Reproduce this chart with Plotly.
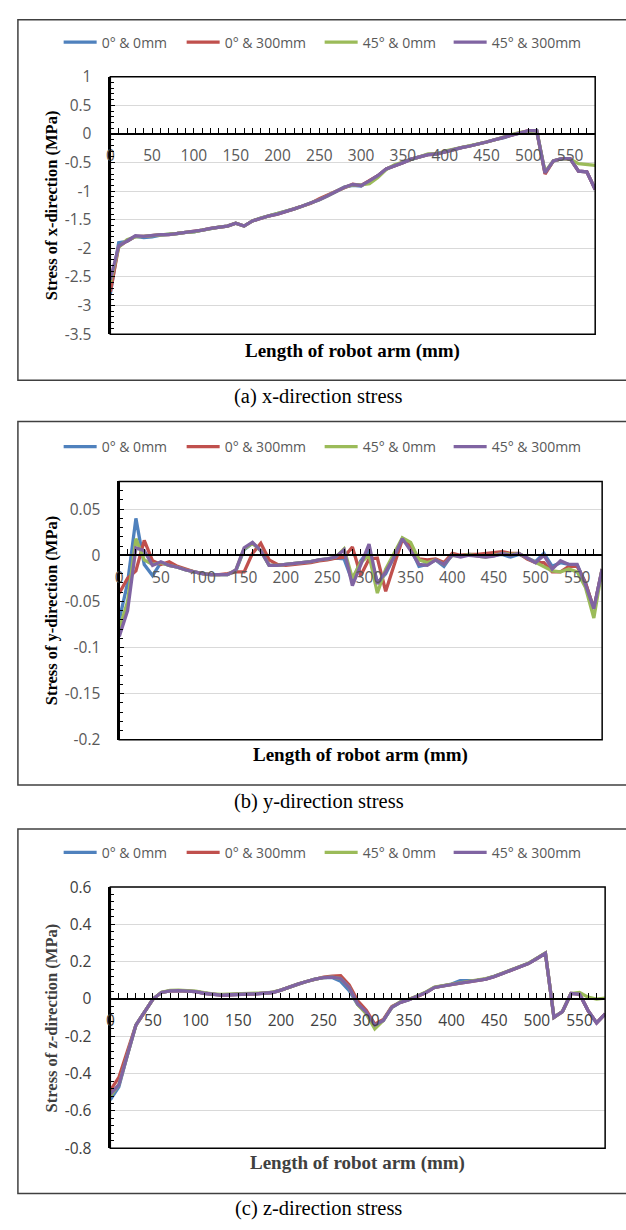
import plotly.graph_objects as go

W, H = 626, 1230

# ---------------- data ----------------
LENGTH_MM = list(range(0, 590, 10))  # 0 ... 580 mm, one point every 10 mm
SERIES = ["0° & 0mm", "0° & 300mm", "45° & 0mm", "45° & 300mm"]
COLORS = ["#4F81BD", "#C0504D", "#9BBB59", "#8064A2"]

# (a) x-direction stress (MPa)
SX_0_0 = [-2.80, -1.90, -1.88, -1.79, -1.81, -1.80, -1.77, -1.76, -1.74, -1.72,
          -1.71, -1.68, -1.65, -1.63, -1.61, -1.56, -1.61, -1.52, -1.47, -1.43,
          -1.40, -1.36, -1.31, -1.26, -1.21, -1.15, -1.08, -1.01, -0.93, -0.90,
          -0.91, -0.82, -0.73, -0.61, -0.56, -0.50, -0.44, -0.40, -0.36, -0.35,
          -0.31, -0.28, -0.24, -0.21, -0.18, -0.14, -0.10, -0.07, -0.02, 0.02,
          0.05, 0.06, -0.68, -0.47, -0.43, -0.43, -0.65, -0.66, -0.97]
SX_0_300 = [-2.76, -1.97, -1.87, -1.79, -1.79, -1.77, -1.76, -1.76, -1.74, -1.72,
            -1.71, -1.68, -1.65, -1.63, -1.61, -1.56, -1.61, -1.52, -1.47, -1.43,
            -1.40, -1.36, -1.31, -1.26, -1.21, -1.13, -1.06, -1.00, -0.94, -0.88,
            -0.90, -0.82, -0.73, -0.61, -0.56, -0.50, -0.44, -0.40, -0.36, -0.35,
            -0.31, -0.28, -0.24, -0.21, -0.18, -0.14, -0.10, -0.06, -0.02, 0.03,
            0.06, 0.06, -0.70, -0.47, -0.43, -0.43, -0.65, -0.66, -0.97]
SX_45_0 = [-2.60, -1.98, -1.85, -1.80, -1.79, -1.78, -1.76, -1.76, -1.74, -1.72,
           -1.71, -1.68, -1.65, -1.63, -1.61, -1.56, -1.61, -1.52, -1.47, -1.43,
           -1.40, -1.36, -1.31, -1.26, -1.21, -1.15, -1.08, -1.01, -0.93, -0.89,
           -0.89, -0.87, -0.76, -0.62, -0.54, -0.49, -0.45, -0.40, -0.35, -0.35,
           -0.30, -0.27, -0.24, -0.21, -0.18, -0.14, -0.10, -0.05, -0.01, 0.03,
           0.05, 0.06, -0.66, -0.47, -0.43, -0.44, -0.52, -0.53, -0.55]
SX_45_300 = [-2.55, -1.96, -1.87, -1.78, -1.79, -1.77, -1.76, -1.76, -1.74, -1.72,
             -1.71, -1.68, -1.65, -1.63, -1.61, -1.56, -1.61, -1.52, -1.47, -1.43,
             -1.40, -1.36, -1.31, -1.26, -1.21, -1.15, -1.08, -1.01, -0.93, -0.88,
             -0.90, -0.82, -0.73, -0.61, -0.56, -0.50, -0.44, -0.40, -0.36, -0.35,
             -0.31, -0.28, -0.24, -0.21, -0.18, -0.14, -0.10, -0.06, -0.02, 0.03,
             0.06, 0.06, -0.68, -0.47, -0.43, -0.43, -0.65, -0.66, -0.97]

# (b) y-direction stress (MPa)
SY_0_0 = [-0.070, -0.030, 0.040, -0.010, -0.022, -0.008, -0.011, -0.013, -0.016, -0.018,
          -0.020, -0.021, -0.021, -0.021, -0.017, 0.006, 0.013, 0.005, -0.011, -0.011,
          -0.010, -0.009, -0.008, -0.007, -0.005, -0.004, -0.003, -0.004, -0.028, -0.006,
          0.005, -0.030, -0.020, -0.002, 0.018, 0.008, -0.012, -0.010, -0.005, -0.012,
          0.001, -0.001, 0.001, 0.000, -0.001, 0.000, 0.001, -0.002, 0.001, -0.003,
          -0.007, 0.002, -0.012, -0.008, -0.010, -0.011, -0.030, -0.058, -0.015]
SY_0_300 = [-0.041, -0.025, -0.017, 0.016, -0.006, -0.010, -0.007, -0.012, -0.015, -0.018,
            -0.020, -0.021, -0.021, -0.020, -0.018, -0.018, 0.002, 0.013, -0.005, -0.010,
            -0.011, -0.010, -0.009, -0.008, -0.006, -0.005, -0.003, -0.002, 0.009, -0.022,
            -0.004, -0.003, -0.039, -0.010, 0.017, 0.010, -0.004, -0.005, -0.004, -0.008,
            0.002, 0.000, 0.001, 0.001, 0.002, 0.003, 0.004, 0.002, 0.002, -0.004,
            -0.008, -0.008, -0.018, -0.018, -0.012, -0.012, -0.030, -0.058, -0.015]
SY_45_0 = [-0.080, -0.050, 0.018, -0.005, -0.010, -0.008, -0.011, -0.013, -0.016, -0.018,
           -0.020, -0.021, -0.021, -0.021, -0.016, 0.007, 0.013, 0.005, -0.011, -0.011,
           -0.010, -0.009, -0.008, -0.007, -0.005, -0.004, -0.002, 0.007, -0.025, -0.008,
           0.000, -0.041, -0.015, 0.002, 0.019, 0.014, -0.005, -0.008, -0.005, -0.010,
           0.000, -0.001, 0.001, -0.001, -0.002, 0.000, 0.002, 0.001, 0.002, -0.003,
           -0.008, -0.013, -0.017, -0.018, -0.015, -0.018, -0.035, -0.068, -0.015]
SY_45_300 = [-0.088, -0.060, 0.008, 0.005, -0.011, -0.007, -0.011, -0.013, -0.016, -0.018,
             -0.020, -0.021, -0.021, -0.021, -0.016, 0.008, 0.014, 0.005, -0.011, -0.011,
             -0.010, -0.009, -0.008, -0.007, -0.005, -0.004, -0.002, 0.006, -0.033, -0.010,
             0.012, -0.031, -0.018, -0.002, 0.018, 0.005, -0.010, -0.011, -0.005, -0.010,
             0.000, -0.002, 0.000, -0.001, -0.002, -0.001, 0.002, 0.000, 0.002, -0.003,
             -0.008, 0.000, -0.015, -0.006, -0.010, -0.010, -0.032, -0.058, -0.015]

# (c) z-direction stress (MPa)
SZ_0_0 = [-0.54, -0.47, -0.30, -0.14, -0.07, 0.00, 0.035, 0.044, 0.045, 0.044,
          0.040, 0.031, 0.024, 0.021, 0.023, 0.027, 0.027, 0.028, 0.030, 0.035,
          0.048, 0.066, 0.080, 0.094, 0.107, 0.115, 0.115, 0.095, 0.045, -0.030,
          -0.070, -0.140, -0.115, -0.044, -0.018, -0.004, 0.014, 0.035, 0.062, 0.072,
          0.080, 0.098, 0.100, 0.100, 0.107, 0.120, 0.137, 0.156, 0.174, 0.190,
          0.217, 0.245, -0.098, -0.067, 0.030, 0.027, -0.062, -0.128, -0.080]
SZ_0_300 = [-0.49, -0.42, -0.28, -0.14, -0.07, 0.00, 0.035, 0.044, 0.045, 0.044,
            0.040, 0.031, 0.024, 0.021, 0.023, 0.027, 0.027, 0.028, 0.030, 0.035,
            0.048, 0.066, 0.080, 0.094, 0.107, 0.117, 0.122, 0.125, 0.075, -0.010,
            -0.060, -0.135, -0.110, -0.040, -0.018, -0.004, 0.014, 0.035, 0.062, 0.071,
            0.076, 0.085, 0.092, 0.100, 0.107, 0.120, 0.137, 0.156, 0.174, 0.190,
            0.217, 0.245, -0.098, -0.067, 0.030, 0.027, -0.062, -0.128, -0.080]
SZ_45_0 = [-0.52, -0.46, -0.30, -0.14, -0.07, 0.00, 0.036, 0.046, 0.047, 0.046,
           0.042, 0.034, 0.027, 0.025, 0.027, 0.031, 0.031, 0.031, 0.032, 0.037,
           0.048, 0.066, 0.080, 0.094, 0.107, 0.115, 0.117, 0.110, 0.062, -0.030,
           -0.080, -0.160, -0.115, -0.044, -0.015, -0.002, 0.016, 0.038, 0.064, 0.073,
           0.078, 0.087, 0.094, 0.102, 0.109, 0.122, 0.139, 0.158, 0.176, 0.192,
           0.219, 0.247, -0.098, -0.067, 0.030, 0.035, 0.010, 0.000, 0.005]
SZ_45_300 = [-0.51, -0.46, -0.30, -0.14, -0.07, 0.00, 0.035, 0.044, 0.045, 0.044,
             0.040, 0.031, 0.024, 0.021, 0.023, 0.027, 0.027, 0.028, 0.030, 0.035,
             0.048, 0.066, 0.080, 0.094, 0.107, 0.115, 0.117, 0.110, 0.062, -0.027,
             -0.070, -0.140, -0.115, -0.044, -0.018, -0.004, 0.014, 0.035, 0.062, 0.071,
             0.076, 0.085, 0.092, 0.100, 0.107, 0.120, 0.137, 0.156, 0.174, 0.190,
             0.217, 0.245, -0.098, -0.067, 0.030, 0.027, -0.062, -0.128, -0.080]

X_TICKS = [0, 50, 100, 150, 200, 250, 300, 350, 400, 450, 500, 550]
Y_TICKS_X = [-3.5, -3, -2.5, -2, -1.5, -1, -0.5, 0, 0.5, 1]
Y_TICKS_Y = [-0.2, -0.15, -0.1, -0.05, 0, 0.05]
Y_TICKS_Z = [-0.8, -0.6, -0.4, -0.2, 0, 0.2, 0.4, 0.6]

Y_TITLES = ["Stress of x-direction (MPa)", "Stress of y-direction (MPa)",
            "Stress of z-direction (MPa)"]
X_TITLE = "Length of robot arm (mm)"
CAPTIONS = ["(a) x-direction stress", "(b) y-direction stress", "(c) z-direction stress"]

# ---------------- layout / geometry (pixels) ----------------
PANELS = [
    dict(data=[SX_0_0, SX_0_300, SX_45_0, SX_45_300], yr=[-3.5, 1], yt=Y_TICKS_X, minor=0.1,
         l=107, r=595, t=66, b=328, bt=8, bb=375, leg=31, xt=345, cap=391,
         title_color="#000000", tick_color="#595959"),
    dict(data=[SY_0_0, SY_0_300, SY_45_0, SY_45_300], yr=[-0.2, 0.08], yt=Y_TICKS_Y, minor=0.01,
         l=116, r=602, t=478, b=741, bt=417, bb=787, leg=443, xt=757, cap=804,
         title_color="#000000", tick_color="#595959"),
    dict(data=[SZ_0_0, SZ_0_300, SZ_45_0, SZ_45_300], yr=[-0.8, 0.6], yt=Y_TICKS_Z, minor=0.04,
         l=107, r=605, t=891, b=1157, bt=832, bb=1203, leg=856, xt=1172, cap=1218,
         title_color="#404040", tick_color="#404040"),
]
LEGEND_ENTRY_WIDTHS = [75, 90, 81, 90]


def px_x(v):
    return v / W


def px_y(v):
    return 1 - v / H


fig = go.Figure()
shapes = []
annotations = []
layout = dict(
    width=W, height=H,
    margin=dict(l=0, r=0, t=0, b=0),
    paper_bgcolor="white", plot_bgcolor="white",
    showlegend=True,
)

TICK_FONT = "Open Sans, Liberation Sans, sans-serif"
SERIF = "Liberation Serif, Times New Roman, serif"

for i, p in enumerate(PANELS):
    s = "" if i == 0 else str(i + 1)
    xa, ya = "x" + s, "y" + s
    leg = "legend" + s
    for name, color, vals, lw in zip(SERIES, COLORS, p["data"], LEGEND_ENTRY_WIDTHS):
        fig.add_trace(go.Scatter(
            x=LENGTH_MM, y=vals, name=name, mode="lines",
            line=dict(color=color, width=3.3),
            xaxis=xa, yaxis=ya, legend=leg, legendwidth=lw,
        ))

    ymin, ymax = p["yr"]
    yb, ytop = px_y(p["b"]), px_y(p["t"])
    zero_pos = yb + (0 - ymin) / (ymax - ymin) * (ytop - yb)

    layout["xaxis" + s] = dict(
        domain=[px_x(p["l"]), px_x(p["r"])], range=[0, 580],
        anchor="free", position=zero_pos,
        tickmode="array", tickvals=X_TICKS, ticktext=[str(v) for v in X_TICKS],
        ticks="inside", ticklen=5, tickwidth=1, tickcolor="black",
        minor=dict(tickmode="linear", tick0=0, dtick=10, ticks="inside", ticklen=5,
                   tickwidth=1, tickcolor="black", showgrid=False),
        showline=True, linecolor="black", linewidth=1.5,
        showgrid=False, zeroline=False,
        tickfont=dict(family=TICK_FONT, size=15.5, color=p["tick_color"]),
        ticklabelstandoff=8,
    )
    layout["yaxis" + s] = dict(
        domain=[yb, ytop], range=[ymin, ymax], anchor=xa,
        tickmode="array", tickvals=p["yt"], ticktext=[f"{v:g}" for v in p["yt"]],
        ticks="inside", ticklen=5, tickwidth=1, tickcolor="black",
        minor=dict(tickmode="linear", tick0=ymin, dtick=p["minor"], ticks="inside",
                   ticklen=4, tickwidth=1, tickcolor="black", showgrid=False),
        showline=True, linecolor="black", linewidth=1.5,
        showgrid=True, gridcolor="#D9D9D9", gridwidth=1, zeroline=False,
        tickfont=dict(family=TICK_FONT, size=15.5, color=p["tick_color"]),
        ticklabelstandoff=14,
    )
    layout[leg] = dict(
        orientation="h", x=px_x(55), xanchor="left", y=px_y(p["leg"]), yanchor="middle",
        font=dict(family=TICK_FONT, size=14, color="#595959"),
        bgcolor="rgba(0,0,0,0)", itemwidth=33, tracegroupgap=0,
        entrywidthmode="pixels",
    )

    # plot-area border
    shapes.append(dict(type="rect", xref=xa + " domain", yref=ya + " domain",
                       x0=0, x1=1, y0=0, y1=1, line=dict(color="black", width=1.5),
                       layer="above"))
    # outer chart box
    shapes.append(dict(type="rect", xref="paper", yref="paper",
                       x0=px_x(14), x1=px_x(640), y0=px_y(p["bb"]), y1=px_y(p["bt"]),
                       line=dict(color="#404040", width=1.5)))
    # axis titles
    annotations.append(dict(
        text=Y_TITLES[i], xref="paper", yref="paper",
        x=px_x(48), y=px_y((p["t"] + p["b"]) / 2), textangle=-90,
        showarrow=False, xanchor="center", yanchor="middle",
        font=dict(family=SERIF, size=16.5, color=p["title_color"], weight="bold"),
    ))
    annotations.append(dict(
        text=X_TITLE, xref="paper", yref="paper",
        x=px_x((p["l"] + p["r"]) / 2), y=px_y(p["xt"]),
        showarrow=False, xanchor="center", yanchor="middle",
        font=dict(family=SERIF, size=19, color=p["title_color"], weight="bold"),
    ))
    # caption
    annotations.append(dict(
        text=CAPTIONS[i], xref="paper", yref="paper",
        x=px_x(317), y=px_y(p["cap"]),
        showarrow=False, xanchor="center", yanchor="middle",
        font=dict(family=SERIF, size=20.5, color="#000000"),
    ))

layout["shapes"] = shapes
layout["annotations"] = annotations
fig.update_layout(**layout)

fig.write_html(
    "out.html",
    config={"displayModeBar": False},
    post_script=("document.body.style.margin='0px';document.body.style.padding='0px';"
                 "document.documentElement.style.overflow='hidden';"),
)
